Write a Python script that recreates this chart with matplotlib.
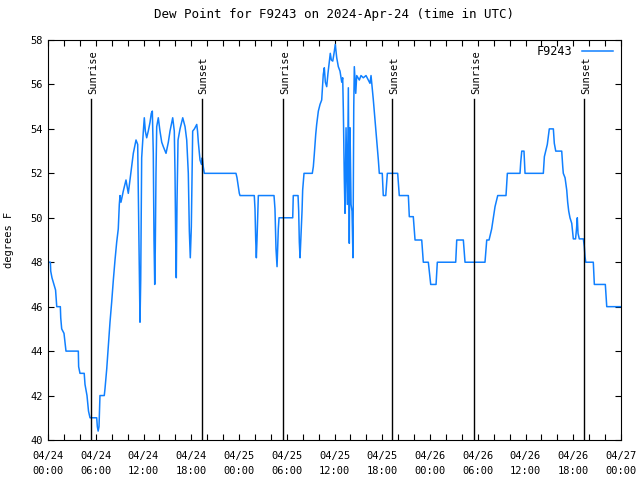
import matplotlib
matplotlib.use('Agg')
from matplotlib import pyplot as plt
from matplotlib.ticker import MultipleLocator

# hours since 2024-04-24 00:00 UTC, dew point in F
hours = [0.00, 0.30, 0.34, 0.50, 0.75, 0.95, 1.04, 1.10, 1.55, 1.60, 1.72, 2.01, 2.26, 3.81, 3.85,
         4.02, 4.55, 4.65, 4.90, 5.09, 5.28, 6.12, 6.20, 6.30, 6.41, 6.53, 7.07, 7.16, 7.38, 7.58,
         7.79, 8.00, 8.21, 8.42, 8.63, 8.83, 8.96, 9.05, 9.17, 9.46, 9.80, 10.09, 10.30, 10.52, 10.72,
         11.06, 11.27, 11.35, 11.47, 11.56, 11.65, 11.77, 11.98, 12.10, 12.23, 12.40, 12.60, 12.82,
         12.98, 13.11, 13.23, 13.32, 13.41, 13.48, 13.57, 13.66, 13.86, 14.07, 14.29, 14.49, 14.83,
         15.12, 15.33, 15.67, 15.87, 15.96, 16.05, 16.12, 16.21, 16.34, 16.59, 16.93, 17.22, 17.43,
         17.63, 17.76, 17.88, 18.01, 18.18, 18.40, 18.69, 18.79, 18.89, 19.10, 19.29, 19.39, 19.51,
         19.64, 23.62, 23.75, 23.87, 24.04, 24.13, 25.92, 26.01, 26.10, 26.18, 26.26, 26.43, 28.40,
         28.52, 28.65, 28.78, 28.86, 28.94, 29.03, 30.75, 30.82, 31.42, 31.50, 31.58, 31.67, 31.75,
         31.92, 32.00, 32.17, 33.21, 33.34, 33.46, 33.64, 33.76, 33.97, 34.18, 34.39, 34.59, 34.72,
         34.85, 35.02, 35.18, 35.35, 35.47, 35.60, 35.78, 35.94, 36.10, 36.28, 36.48, 36.69, 36.91,
         37.03, 37.11, 37.23, 37.32, 37.45, 37.61, 37.74, 37.86, 37.95, 38.08, 38.20, 38.32, 38.42,
         38.49, 38.67, 38.79, 39.12, 39.33, 39.62, 39.96, 40.25, 40.46, 40.59, 40.68, 40.88, 41.09,
         41.30, 41.51, 41.63, 42.00, 42.13, 42.44, 42.64, 43.94, 44.14, 45.28, 45.40, 45.90, 46.12,
         46.96, 47.16, 47.79, 48.09, 48.76, 48.92, 51.23, 51.36, 52.19, 52.40, 54.91, 55.13, 55.42,
         55.75, 55.96, 56.17, 56.51, 57.55, 57.72, 59.31, 59.40, 59.53, 59.81, 59.94, 62.24, 62.37,
         62.54, 62.74, 62.99, 63.50, 63.62, 63.80, 64.55, 64.68, 64.75, 64.97, 65.18, 65.30, 65.43,
         65.59, 65.81, 65.93, 66.01, 66.29, 66.41, 66.51, 66.60, 66.76, 67.27, 67.39, 67.48, 67.57,
         68.52, 68.65, 70.03, 70.21, 72.00]
dewpt = [48.0, 48.0, 47.6, 47.3, 47.0, 46.75, 46.3, 46.0, 46.0, 45.5, 45.0, 44.8, 44.0, 44.0, 43.3,
         43.0, 43.0, 42.5, 42.0, 41.3, 41.0, 41.0, 40.6, 40.4, 40.6, 42.0, 42.0, 42.3, 43.2, 44.2,
         45.3, 46.2, 47.2, 48.1, 48.9, 49.5, 50.6, 51.0, 50.7, 51.2, 51.7, 51.1, 51.7, 52.3, 52.9,
         53.5, 53.3, 51.0, 47.2, 45.3, 47.2, 52.7, 53.9, 54.5, 53.9, 53.6, 53.9, 54.3,
         54.7, 54.8, 52.9, 49.0, 47.0, 48.6, 52.0, 54.1, 54.5, 53.9, 53.4, 53.2, 52.9,
         53.4, 53.9, 54.5, 53.9, 52.0, 48.9, 47.3, 50.7, 53.5, 54.0, 54.5, 54.1, 53.5,
         52.0, 49.4, 48.2, 49.6, 53.9, 54.0, 54.2, 53.9, 53.4, 52.6, 52.4, 52.7, 52.3,
         52.0, 52.0, 51.8, 51.5, 51.1, 51.0, 51.0, 50.4, 49.0, 48.2, 49.0, 51.0, 51.0,
         50.4, 48.6, 47.8, 48.6, 49.5, 50.0, 50.0, 51.0, 51.0, 50.3, 48.9, 48.2, 48.9,
         50.3, 51.25, 52.0, 52.0, 52.3, 52.85, 53.75, 54.2, 54.8, 55.1, 55.3, 56.45, 56.75,
         56.1, 55.9, 56.5, 57.05, 57.4, 57.1, 57.05, 57.4, 57.8, 57.2, 56.8, 56.6, 56.1,
         56.3, 54.85, 51.8, 50.2, 54.05, 50.6, 55.85, 48.85, 54.05, 50.6, 50.3, 48.2, 55.0,
         56.8, 55.6, 56.4, 56.2, 56.4, 56.3, 56.4, 56.2, 56.05, 56.4, 56.05, 55.3, 54.4,
         53.5, 52.6, 52.0, 52.0, 51.0, 51.0, 52.0, 52.0, 51.0, 51.0, 50.05, 50.05, 49.0,
         49.0, 48.0, 48.0, 47.0, 47.0, 48.0, 48.0, 49.0, 49.0, 48.0, 48.0, 49.0, 49.0,
         49.5, 50.0, 50.5, 51.0, 51.0, 52.0, 52.0, 52.5, 53.0, 53.0, 52.0, 52.0, 52.75,
         53.0, 53.3, 54.0, 54.0, 53.35, 53.0, 53.0, 52.3, 52.0, 51.8, 51.25, 50.7, 50.3,
         50.0, 49.75, 49.3, 49.05, 49.05, 49.5, 50.0, 49.3, 49.05, 49.05, 48.7, 48.25, 48.0,
         48.0, 47.0, 47.0, 46.0, 46.0]

sun_hours = [5.43, 19.30, 29.57, 43.27, 53.57, 67.39]
sun_labels = ['Sunrise', 'Sunset', 'Sunrise', 'Sunset', 'Sunrise', 'Sunset']

tick_hours = list(range(0, 73, 6))
tick_days = ['04/24', '04/24', '04/24', '04/24', '04/25', '04/25', '04/25',
             '04/25', '04/26', '04/26', '04/26', '04/26', '04/27']
tick_times = ['00:00', '06:00', '12:00', '18:00'] * 3 + ['00:00']

plt.rcParams['font.family'] = ['DejaVu Sans Mono']
plt.rcParams['font.size'] = 7.5

fig = plt.figure(figsize=(6.4, 4.8), dpi=100)
ax = fig.add_axes((48/640, 40/480, 573/640, 400/480))

ax.plot(hours, dewpt, color='#1080ff', lw=1.1, label='F9243')

for h, lab in zip(sun_hours, sun_labels):
    ax.axvline(h, ymin=0, ymax=0.852, color='black', lw=1.0)
    ax.text(h + 0.2, 55.55, lab, rotation=90, ha='center', va='bottom')

ax.set_xlim(0, 72)
ax.set_ylim(40, 58)
ax.set_xticks(tick_hours)
ax.set_xticklabels([d + '\n' + t for d, t in zip(tick_days, tick_times)], linespacing=1.6)
ax.xaxis.set_minor_locator(MultipleLocator(2))
ax.yaxis.set_major_locator(MultipleLocator(2))
ax.tick_params(which='both', direction='in', top=True, right=True, length=4, width=0.8)
ax.tick_params(axis='x', pad=8)
ax.set_ylabel('degrees F', labelpad=12)
ax.set_title('Dew Point for F9243 on 2024-Apr-24 (time in UTC)', pad=16)
ax.legend(loc='upper right', frameon=False, markerfirst=False, handlelength=2.6,
          bbox_to_anchor=(0.998, 1.006), borderaxespad=0.2, handletextpad=0.8,
          fontsize=8.5)

plt.savefig('out.png')
